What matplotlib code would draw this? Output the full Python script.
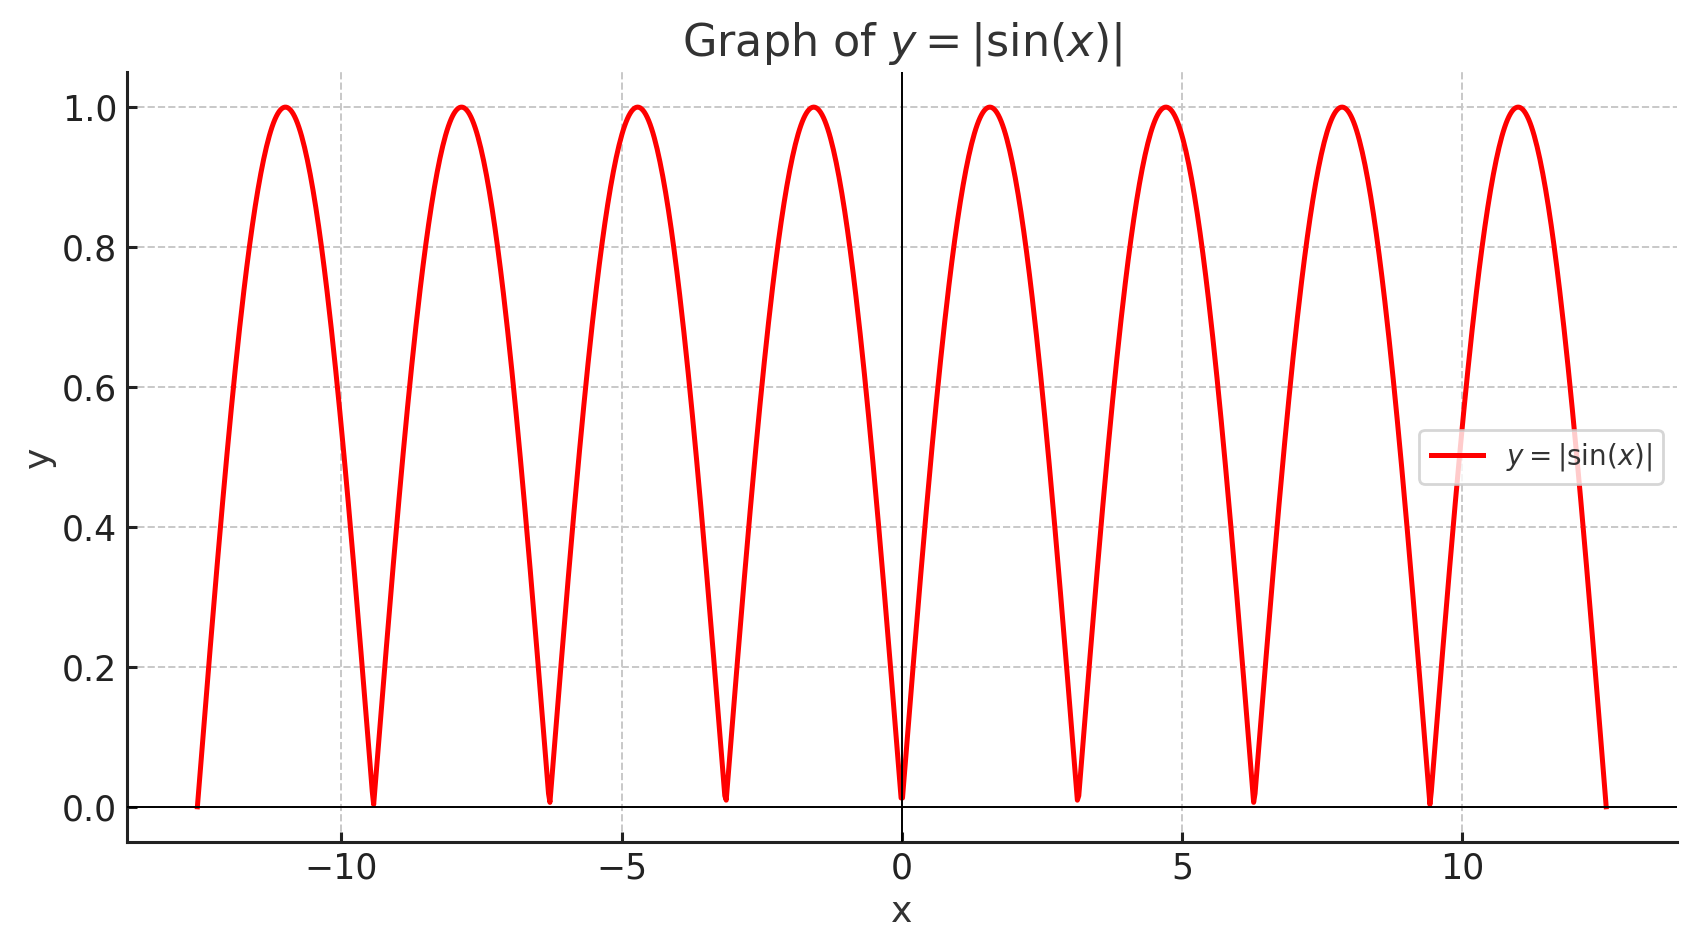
import numpy as np
import matplotlib
matplotlib.use("Agg")
import matplotlib.pyplot as plt

# ---------------- DATA ----------------
x_start = -4 * np.pi
x_end = 4 * np.pi
n_points = 1000
yticks = [0.0, 0.2, 0.4, 0.6, 0.8, 1.0]
xticks = [-10, -5, 0, 5, 10]

x = np.linspace(x_start, x_end, n_points)
y = np.abs(np.sin(x))

# ---------------- PLOT ----------------
plt.rcParams["font.family"] = ["DejaVu Sans"]
fig = plt.figure(figsize=(16.97 / 2, 9.49 / 2), dpi=200)
ax = fig.add_axes([0.0748, 0.113, 0.9132, 0.811])

ax.plot(x, y, color="red", lw=1.8, label=r"$y = |\sin(x)|$", zorder=3)
ax.axhline(0, color="black", lw=0.7, zorder=4)
ax.axvline(0, color="black", lw=0.7, zorder=4)

ax.set_xticks(xticks)
ax.set_yticks(yticks)
ax.grid(True, linestyle="--", color="#c8c8c8", lw=0.7)
ax.set_axisbelow(True)

for side in ["top", "right"]:
    ax.spines[side].set_visible(False)
for side in ["left", "bottom"]:
    ax.spines[side].set_linewidth(1.1)
    ax.spines[side].set_color("#222222")

ax.tick_params(direction="in", length=3.5, width=1.1, colors="#222222", labelsize=12.5, pad=3.5)

ax.set_title(r"Graph of $y = |\sin(x)|$", fontsize=16, color="#333333", pad=6)
ax.set_xlabel("x", fontsize=13, color="#333333", labelpad=3.5)
ax.set_ylabel("y", fontsize=13, color="#333333", labelpad=2)

ax.legend(loc="center right", fontsize=10, labelcolor="#333333", handlelength=1.9)

fig.savefig("out.png", dpi=200)
